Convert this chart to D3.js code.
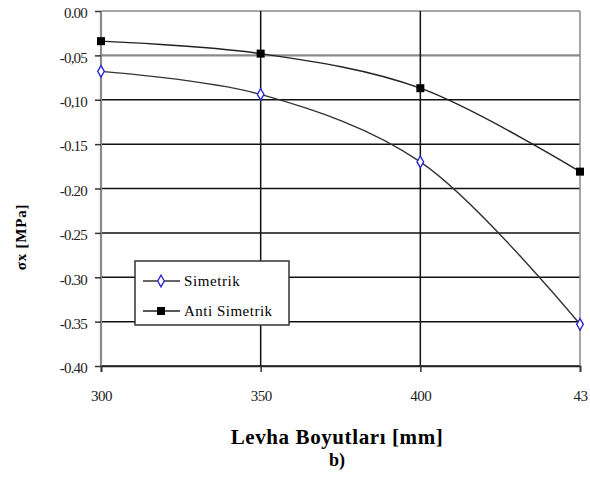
<!doctype html>
<html>
<head>
    <style>
        body { margin: 0; background: #fff; }
        text { font-family: "Liberation Serif", "DejaVu Serif", serif; }
    </style>
    <script src="https://d3js.org/d3.v7.min.js"></script>
</head>
<body>
<svg width="590" height="479"></svg>
<script>

    // data
    var sizes = [300, 350, 400, 450];
    var sizeLabels = ["300", "350", "400", "43"];
    var simetrik = [-0.068, -0.094, -0.170, -0.353];
    var antiSimetrik = [-0.034, -0.048, -0.087, -0.181];
    var yTicks = [0, -0.05, -0.10, -0.15, -0.20, -0.25, -0.30, -0.35, -0.40];
    var yTickLabels = ["0.00", "-0,05", "-0,10", "-0.15", "-0.20", "-0.25", "-0.30", "-0.35", "-0.40"];

    var svg = d3.select("svg");
    var plotLeft = 101, plotRight = 580, plotTop = 11, plotBottom = 366;

    var x = d3.scaleLinear().domain([300, 450]).range([plotLeft, plotRight]);
    var y = d3.scaleLinear().domain([-0.40, 0]).range([plotBottom, plotTop]);

    // horizontal grid
    svg.append("g")
       .selectAll("line")
       .data(yTicks)
       .enter().append("line")
       .attr("x1", plotLeft).attr("x2", plotRight)
       .attr("y1", function(d) { return y(d); })
       .attr("y2", function(d) { return y(d); })
       .attr("stroke", function(d, i) { return i < 2 ? "#8a8a8a" : "#111"; })
       .attr("stroke-width", function(d, i) { return i == 1 ? 2.2 : 1.5; });

    // vertical grid
    svg.append("g")
       .selectAll("line")
       .data(sizes)
       .enter().append("line")
       .attr("x1", function(d) { return x(d); })
       .attr("x2", function(d) { return x(d); })
       .attr("y1", plotTop).attr("y2", plotBottom)
       .attr("stroke", function(d, i) { return (i == 0 || i == 3) ? "#8a8a8a" : "#111"; })
       .attr("stroke-width", function(d, i) { return i == 0 ? 2.2 : 1.5; });

    // y axis
    var yAxis = svg.append("g")
        .attr("transform", "translate(" + plotLeft + ",0)")
        .call(d3.axisLeft(y).tickValues(yTicks).tickSize(6).tickPadding(8)
              .tickFormat(function(d, i) { return yTickLabels[i]; }));
    yAxis.select(".domain").remove();
    yAxis.selectAll(".tick line").attr("stroke", "#333").attr("stroke-width", 1.5);
    yAxis.selectAll("text").attr("font-size", "15px").attr("fill", "#222")
         .attr("dy", "0.45em").attr("letter-spacing", "-0.8px");

    // x axis
    var xAxis = svg.append("g")
        .attr("transform", "translate(0," + plotBottom + ")")
        .call(d3.axisBottom(x).tickValues(sizes).tickSize(6).tickPadding(18)
              .tickFormat(function(d, i) { return sizeLabels[i]; }));
    xAxis.select(".domain").attr("stroke", "#222").attr("stroke-width", 1.6);
    xAxis.selectAll(".tick line").attr("stroke", "#333").attr("stroke-width", 1.5);
    xAxis.selectAll("text").attr("font-size", "15px").attr("fill", "#222")
         .attr("letter-spacing", "-0.5px");

    // lines
    var line = d3.line()
        .x(function(d, i) { return x(sizes[i]); })
        .y(function(d) { return y(d); })
        .curve(d3.curveCatmullRom.alpha(0.5));

    svg.append("path").datum(simetrik)
       .attr("d", line).attr("fill", "none")
       .attr("stroke", "#333").attr("stroke-width", 1.4);
    svg.append("path").datum(antiSimetrik)
       .attr("d", line).attr("fill", "none")
       .attr("stroke", "#222").attr("stroke-width", 1.4);

    // markers
    var diamond = d3.symbol().type(d3.symbolDiamond).size(38);
    svg.append("g").selectAll("path")
       .data(simetrik)
       .enter().append("path")
       .attr("d", diamond)
       .attr("transform", function(d, i) { return "translate(" + x(sizes[i]) + "," + y(d) + ")"; })
       .attr("fill", "#fff").attr("stroke", "#2b2bd0").attr("stroke-width", 1.4);

    svg.append("g").selectAll("rect")
       .data(antiSimetrik)
       .enter().append("rect")
       .attr("x", function(d, i) { return x(sizes[i]) - 4; })
       .attr("y", function(d) { return y(d) - 4; })
       .attr("width", 8).attr("height", 8)
       .attr("fill", "#000");

    // legend
    var lg = svg.append("g").attr("transform", "translate(135,261)");
    lg.append("rect").attr("width", 154).attr("height", 64)
      .attr("fill", "#fff").attr("stroke", "#333").attr("stroke-width", 1.5);
    lg.append("line").attr("x1", 8).attr("x2", 45).attr("y1", 20).attr("y2", 20)
      .attr("stroke", "#333").attr("stroke-width", 1.4);
    lg.append("path").attr("d", diamond).attr("transform", "translate(26,20)")
      .attr("fill", "#fff").attr("stroke", "#2b2bd0").attr("stroke-width", 1.4);
    lg.append("text").attr("x", 49).attr("y", 25).attr("font-size", "15px")
      .attr("letter-spacing", "0.6px").text("Simetrik");
    lg.append("line").attr("x1", 8).attr("x2", 45).attr("y1", 50).attr("y2", 50)
      .attr("stroke", "#222").attr("stroke-width", 1.4);
    lg.append("rect").attr("x", 22).attr("y", 46).attr("width", 8).attr("height", 8).attr("fill", "#000");
    lg.append("text").attr("x", 49).attr("y", 55).attr("font-size", "15px")
      .attr("letter-spacing", "0.5px").text("Anti Simetrik");

    // axis titles
    svg.append("text")
       .attr("transform", "translate(26,237) rotate(-90)")
       .attr("text-anchor", "middle")
       .attr("font-size", "15px").attr("font-weight", "bold")
       .attr("letter-spacing", "0.8px")
       .text("σx [MPa]");

    svg.append("text")
       .attr("x", 337).attr("y", 444)
       .attr("text-anchor", "middle")
       .attr("font-size", "21px").attr("font-weight", "bold")
       .attr("letter-spacing", "0.6px")
       .text("Levha Boyutları [mm]");

    svg.append("text")
       .attr("x", 337).attr("y", 466)
       .attr("text-anchor", "middle")
       .attr("font-size", "18px").attr("font-weight", "bold")
       .text("b)");

</script>
</body>
</html>
